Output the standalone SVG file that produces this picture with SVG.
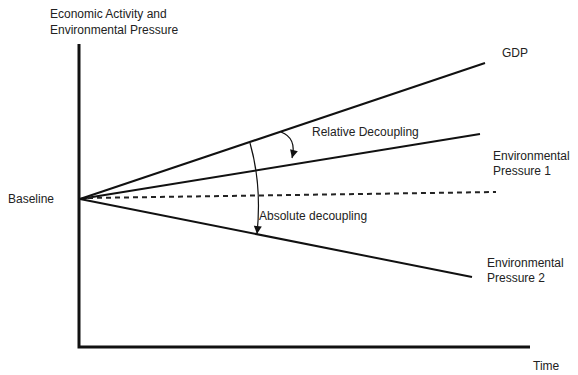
<svg xmlns="http://www.w3.org/2000/svg" width="578" height="375" viewBox="0 0 578 375">
<style>
text{font-family:"Liberation Sans",Arial,sans-serif;font-size:12px;fill:#222}
.axis{stroke:#111;stroke-width:3;fill:none}
.trend{stroke:#111;stroke-width:2;fill:none}
.dash{stroke:#222;stroke-width:2;stroke-dasharray:5,4;fill:none}
.arc{stroke:#111;stroke-width:1.2;fill:none;marker-end:url(#ah)}
</style>
<defs>
<marker id="ah" markerWidth="10" markerHeight="10" refX="9" refY="5" orient="auto" markerUnits="userSpaceOnUse">
<path d="M1,1 L9,5 L1,9 Z" fill="#111"/>
</marker>
</defs>
<rect width="578" height="375" fill="#fff"/>
<g id="axes">
<polyline class="axis" points="79,44 79,347 530,347"/>
</g>
<g id="connectors">
<line class="trend" x1="80" y1="199" x2="485" y2="63"/>
<line class="trend" x1="80" y1="199" x2="480" y2="134"/>
<line class="trend" x1="80" y1="199" x2="472" y2="277"/>
<line class="dash" x1="88" y1="198" x2="496" y2="192"/>
<path class="arc" d="M281,132 Q297,138 292,158"/>
<path class="arc" d="M250,143 Q262,185 257,234"/>
</g>
<g id="title"><text x="50" y="18">Economic Activity and</text><text x="50" y="34">Environmental Pressure</text></g>
<g id="baseline"><text x="8" y="203">Baseline</text></g>
<g id="gdp"><text x="502" y="57">GDP</text></g>
<g id="ep1"><text x="493" y="160">Environmental</text><text x="493" y="175">Pressure 1</text></g>
<g id="ep2"><text x="487" y="267">Environmental</text><text x="487" y="282">Pressure 2</text></g>
<g id="relative"><text x="312" y="136">Relative Decoupling</text></g>
<g id="absolute"><text x="259" y="220">Absolute decoupling</text></g>
<g id="time"><text x="533" y="370">Time</text></g>
</svg>
